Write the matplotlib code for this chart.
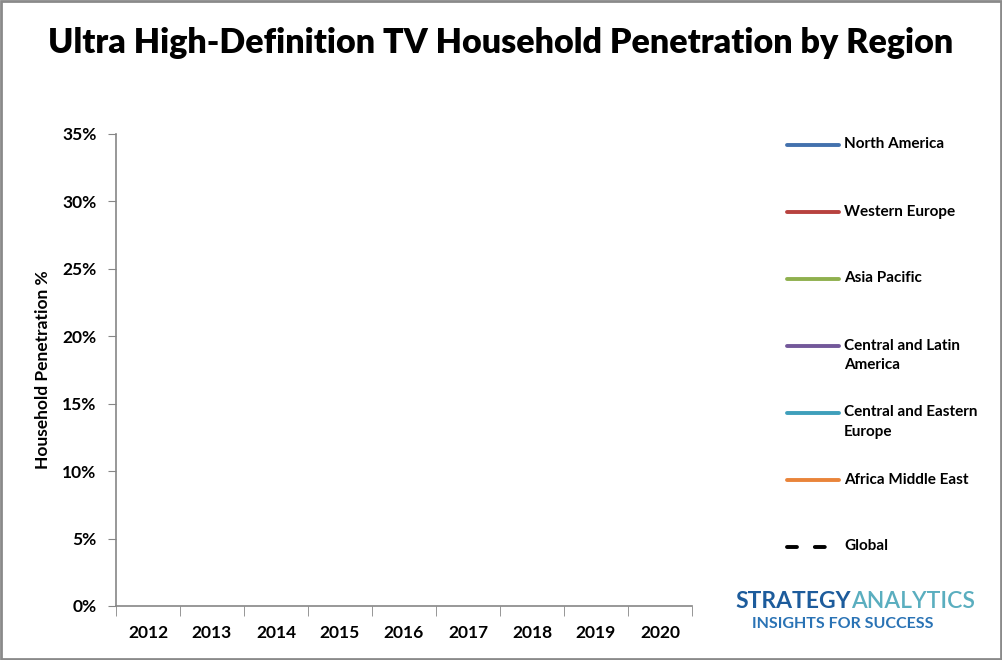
import matplotlib
matplotlib.use("Agg")
import matplotlib.pyplot as plt
from matplotlib.lines import Line2D
from matplotlib.patches import Rectangle
from matplotlib.ticker import FixedLocator, PercentFormatter

plt.rcParams["font.family"] = ["Lato", "DejaVu Sans"]

# chart data: the source chart shows no plotted values, only the frame
years = ["2012", "2013", "2014", "2015", "2016", "2017", "2018", "2019", "2020"]
regions = [
    "North America",
    "Western Europe",
    "Asia Pacific",
    "Central and Latin America",
    "Central and Eastern Europe",
    "Africa Middle East",
    "Global",
]
legend_labels = [
    "North America",
    "Western Europe",
    "Asia Pacific",
    "Central and Latin\nAmerica",
    "Central and Eastern\nEurope",
    "Africa Middle East",
    "Global",
]
series_values = {name: [] for name in regions}
y_ticks = [0, 5, 10, 15, 20, 25, 30, 35]

colors = ["#4371ad", "#b8423f", "#8fb04e", "#73589a", "#3f9fbb", "#e9843a", "#000000"]
AXIS_GREY = "#868686"
GLOBAL_DASH = (0, (2.56, 4.6))
LW = 2.8

fig = plt.figure(figsize=(10.02, 6.6), dpi=100)
ax = fig.add_axes([116 / 1002, 54 / 660, 576 / 1002, 472 / 660])

styles = []
for name, col in zip(regions, colors):
    vals = series_values[name]
    ls = GLOBAL_DASH if name == "Global" else "-"
    ax.plot(range(len(vals)), vals, color=col, lw=LW, ls=ls,
            solid_capstyle="round", dash_capstyle="round")
    styles.append((col, ls))

ax.set_xlim(-0.5, len(years) - 0.5)
ax.set_ylim(0, 35)
ax.yaxis.set_major_locator(FixedLocator(y_ticks))
ax.yaxis.set_major_formatter(PercentFormatter(decimals=0))
ax.set_xticks(range(len(years)))
ax.set_xticklabels(years, fontsize=12.5, fontweight="bold")
ax.tick_params(axis="x", length=0, pad=14)
ax.set_xticks([i - 0.5 for i in range(len(years) + 1)], minor=True)
ax.tick_params(axis="x", which="minor", length=7, color=AXIS_GREY, direction="out")
ax.tick_params(axis="y", length=6, color=AXIS_GREY, labelsize=12.5, pad=8)
for lab in ax.get_yticklabels():
    lab.set_fontweight("bold")

for side in ["top", "right"]:
    ax.spines[side].set_visible(False)
for side in ["left", "bottom"]:
    ax.spines[side].set_color(AXIS_GREY)
    ax.spines[side].set_linewidth(1.2)

ax.set_ylabel("Household Penetration %", fontsize=12.5, fontweight="bold", labelpad=8)

fig.text(0.5, 1 - 43 / 660, "Ultra High-Definition TV Household Penetration by Region",
         ha="center", va="center", fontsize=24.5, fontweight="heavy")

# legend on the right, one entry per region
for i, ((col, ls), lab) in enumerate(zip(styles, legend_labels)):
    y = 1 - (145 + 67 * i) / 660
    x_end = 825 if lab == "Global" else 839
    fig.add_artist(Line2D([787 / 1002, x_end / 1002], [y, y], color=col, lw=LW,
                          linestyle=ls, solid_capstyle="round", dash_capstyle="round"))
    fig.text(844 / 1002, y + 7.5 / 660, lab, ha="left", va="top", fontsize=11,
             fontweight="bold", linespacing=1.5)

# logo text
t1 = fig.text(735 / 1002, 1 - 601 / 660, "STRATEGY", ha="left", va="center",
              fontsize=16.5, fontweight="bold", color="#1d5c9c")
fig.canvas.draw()
bb = t1.get_window_extent()
fig.text(bb.x1 / 1002 + 0.001, 1 - 601 / 660, "ANALYTICS", ha="left", va="center",
         fontsize=16.5, color="#5aaebf", fontweight="semibold")
fig.text(843 / 1002, 1 - 624 / 660, "INSIGHTS FOR SUCCESS", ha="center", va="center",
         fontsize=11.5, fontweight="bold", color="#2a73b5")

fig.add_artist(Rectangle((0.001, 0.0015), 0.998, 0.997, transform=fig.transFigure,
                         fill=False, edgecolor="#8a8a8a", lw=2))

fig.savefig("out.png", dpi=100)
